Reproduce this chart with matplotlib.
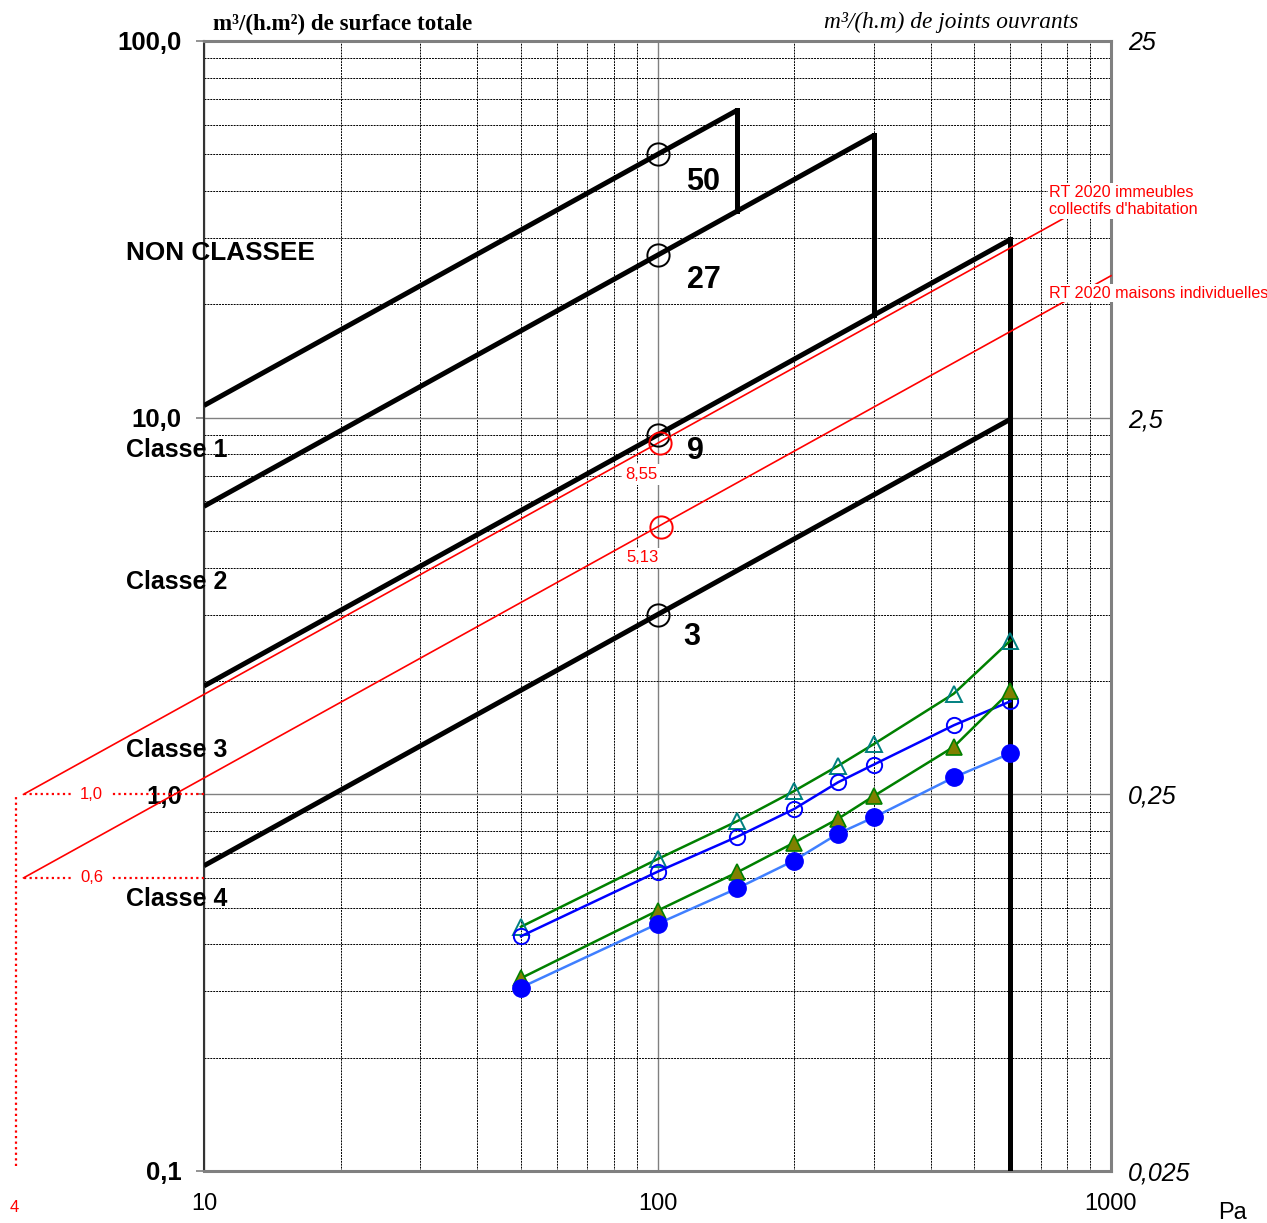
import numpy as np
import matplotlib.pyplot as plt
from matplotlib.ticker import FixedLocator, NullFormatter

plt.rcParams['font.family'] = ['Liberation Sans', 'DejaVu Sans']

# pressions de mesure (Pa)
pressions = [50, 100, 150, 200, 250, 300, 450, 600]

# séries mesurées (m3/(h.m2))
serie_tri_ouvert = [0.445, 0.673, 0.849, 1.02, 1.19, 1.36, 1.85, 2.56]
serie_rond_ouvert = [0.42, 0.623, 0.772, 0.914, 1.076, 1.20, 1.525, 1.766]
serie_tri_plein = [0.325, 0.491, 0.621, 0.744, 0.861, 0.99, 1.337, 1.88]
serie_rond_plein = [0.307, 0.453, 0.563, 0.667, 0.786, 0.869, 1.109, 1.285]

# limites de classes (valeur à 100 Pa, pression max)
classes_q100 = [50, 27, 9, 3]
classes_pmax = [150, 300, 600, 600]
classes_txt = ['50', '27', '9', '3']
n_exp = 2.0 / 3.0

# RT 2020 : valeur à 4 Pa et à 100 Pa
rt_q4 = [1.0, 0.6]
rt_q100 = [8.55, 5.13]
rt_lbl4 = ['1,0', '0,6']
rt_lbl100 = ['8,55', '5,13']
rt_noms = ["RT 2020 immeubles\ncollectifs d'habitation", "RT 2020 maisons individuelles"]

classes_noms = ['NON CLASSEE', 'Classe 1', 'Classe 2', 'Classe 3', 'Classe 4']
classes_noms_y = [253, 450, 582, 750, 899]

W, H = 1267, 1223
fig = plt.figure(figsize=(W / 100, H / 100), dpi=100)
ax = fig.add_axes([204 / W, 1 - 1171 / H, 907 / W, 1130 / H])
ax.set_xscale('log')
ax.set_yscale('log')
ax.set_xlim(10, 1000)
ax.set_ylim(0.1, 100)


def fx(px):
    return px / W


def fy(py):
    return 1 - py / H


# grille
ax.xaxis.set_minor_locator(FixedLocator([k * 10 ** e for e in (1, 2) for k in range(2, 10)]))
ax.yaxis.set_minor_locator(FixedLocator([k * 10 ** e for e in (-1, 0, 1) for k in range(2, 10)]))
ax.grid(which='major', color='#808080', lw=1.0, ls='-')
ax.grid(which='minor', color='black', lw=0.7, ls=(0, (2, 1)))
ax.set_axisbelow(True)
ax.tick_params(which='minor', length=0)
ax.tick_params(axis='x', which='major', length=0, pad=16, labelsize=17)
ax.tick_params(axis='y', which='major', length=6, width=1.2, color='#808080', pad=10)
ax.set_xticks([10, 100, 1000])
ax.set_xticklabels(['10', '100', '1000'])
ax.set_yticks([0.1, 1, 10, 100])
ax.set_yticklabels(['0,1', '1,0', '10,0', '100,0'], fontsize=18.5, fontweight='bold')
for s in ('top', 'right', 'bottom'):
    ax.spines[s].set_color('#808080')
    ax.spines[s].set_linewidth(2.2)
ax.spines['left'].set_color('#333333')
ax.spines['left'].set_linewidth(1.5)

# axe de droite : m3/(h.m)
sec = ax.secondary_yaxis('right', functions=(lambda y: y / 4, lambda y: y * 4))
sec.set_yticks([0.025, 0.25, 2.5, 25])
sec.set_yticklabels(['0,025', '0,25', '2,5', '25'], fontsize=18, fontstyle='italic')
sec.yaxis.set_minor_formatter(NullFormatter())
sec.tick_params(which='both', length=0, pad=12)
sec.spines['right'].set_visible(False)

# droites de classes
for q, pmax in zip(classes_q100, classes_pmax):
    xx = np.array([10, pmax])
    ax.plot(xx, q * (xx / 100) ** n_exp, color='black', lw=3.6, solid_capstyle='butt', zorder=4)

# segments verticaux
for i in range(len(classes_q100) - 1):
    p = classes_pmax[i]
    if classes_pmax[i + 1] == p:
        y_bas = 0.1
    else:
        y_bas = classes_q100[i + 1] * (p / 100) ** n_exp
    y_haut = classes_q100[i] * (p / 100) ** n_exp
    ax.plot([p, p], [y_bas, y_haut], color='black', lw=3.6, zorder=4)

for q in classes_q100:
    ax.plot([100], [q], marker='o', ms=16, mfc='none', mec='black', mew=1.4, zorder=6)
offs = [(46, -28), (46, -25), (38, -16), (34, -22)]
for q, t, o in zip(classes_q100, classes_txt, offs):
    ax.annotate(t, (100, q), xytext=o, textcoords='offset pixels', ha='center', va='center',
                fontsize=22, fontweight='bold', zorder=7)

# droites RT 2020
xr = np.array([4, 1000])
for q4, q100, l4, l100, xo in zip(rt_q4, rt_q100, rt_lbl4, rt_lbl100, [101.5, 102]):
    ax.plot(xr, q4 * (xr / 4) ** n_exp, color='red', lw=1.2, clip_on=False, zorder=5)
    ax.plot([4, 10], [q4, q4], color='red', lw=1.6, ls=(0, (1, 1.5)), clip_on=False, zorder=5)
    ax.text(5.65, q4, l4, color='red', fontsize=12, ha='center', va='center', zorder=8,
            bbox=dict(facecolor='white', edgecolor='none', pad=5))
    ax.plot([xo], [q100], marker='o', ms=16, mfc='none', mec='red', mew=1.4, zorder=6)
    ax.annotate(l100, (xo, q100), xytext=(-19, -31), textcoords='offset pixels', color='red',
                fontsize=12, ha='center', va='center', zorder=8,
                bbox=dict(facecolor='white', edgecolor='none', pad=2))

ax.plot([3.85, 3.85], [0.103, rt_q4[0]], color='red', lw=1.6, ls=(0, (1, 1.5)), clip_on=False, zorder=5)
fig.text(fx(14), fy(1208), '4', color='red', fontsize=12, ha='center', va='center')

fig.text(fx(1049), fy(201), rt_noms[0], color='red', fontsize=11.6, ha='left', va='center',
         linespacing=1.2, zorder=10, bbox=dict(facecolor='white', edgecolor='none', pad=1))
fig.text(fx(1049), fy(293), rt_noms[1], color='red', fontsize=11.6, ha='left', va='center',
         zorder=10, bbox=dict(facecolor='white', edgecolor='none', pad=1))

# séries mesurées
ax.plot(pressions, serie_tri_ouvert, color='#008000', lw=1.8, marker='^', ms=11,
        mfc='none', mec='#008080', mew=1.4, zorder=9)
ax.plot(pressions, serie_rond_ouvert, color='#0000ff', lw=1.8, marker='o', ms=11,
        mfc='none', mec='#0000ff', mew=1.4, zorder=9)
ax.plot(pressions, serie_tri_plein, color='#008000', lw=1.8, marker='^', ms=11,
        mfc='#808000', mec='#008000', mew=1.2, zorder=9)
ax.plot(pressions, serie_rond_plein, color='#3f7fff', lw=1.8, marker='o', ms=12.5,
        mfc='#0000ff', mec='#0000ff', zorder=9)

# libellés de classes
for nom, yy in zip(classes_noms, classes_noms_y):
    taille = 18.8 if nom == 'NON CLASSEE' else 18
    fig.text(fx(126), fy(yy), nom, fontsize=taille, fontweight='bold', ha='left', va='center', zorder=10)

fig.text(fx(213), fy(24), 'm³/(h.m²) de surface totale', family='Liberation Serif',
         fontsize=16.6, fontweight='bold', ha='left', va='center')
fig.text(fx(1078), fy(22), 'm³/(h.m) de joints ouvrants', family='Liberation Serif',
         fontsize=16.8, fontstyle='italic', ha='right', va='center')
fig.text(fx(1233), fy(1213), 'Pa', fontsize=17, ha='center', va='center')

fig.savefig('out.png', dpi=100)
